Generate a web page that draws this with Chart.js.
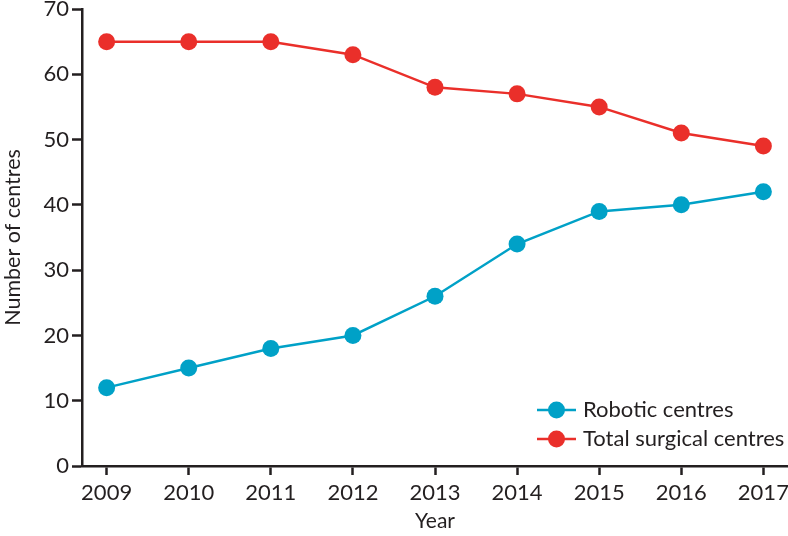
<!DOCTYPE html>
<html>
<head>
<meta charset="utf-8">
<script src="https://cdn.jsdelivr.net/npm/chart.js@4"></script>
<style>
  html, body { margin: 0; padding: 0; background: #fff; }
  #wrap { width: 788px; height: 536px; }
</style>
</head>
<body>
<div id="wrap"><canvas id="chart" width="788" height="536"></canvas></div>
<script>
const years = [2009, 2010, 2011, 2012, 2013, 2014, 2015, 2016, 2017];
const robotic = [12, 15, 18, 20, 26, 34, 39, 40, 42];
const totalSurgical = [65, 65, 65, 63, 58, 57, 55, 51, 49];
const yTicks = [0, 10, 20, 30, 40, 50, 60, 70];

const BLUE = "#00a1c7";
const RED = "#ea2f2a";
const INK = "#231f20";
const FONT = "Lato";

// legend drawn inside the plot, bottom right
const insideLegend = {
    id: "insideLegend",
    afterDraw(chart) {
        const ctx = chart.ctx;
        const items = chart.data.datasets;
        ctx.save();
        items.forEach((ds, i) => {
            const y = 410 + i * 29;
            const x0 = 537, x1 = 576;
            ctx.strokeStyle = ds.borderColor;
            ctx.lineWidth = 2.5;
            ctx.beginPath();
            ctx.moveTo(x0, y);
            ctx.lineTo(x1, y);
            ctx.stroke();
            ctx.fillStyle = ds.backgroundColor;
            ctx.beginPath();
            ctx.arc((x0 + x1) / 2, y, 8.5, 0, Math.PI * 2);
            ctx.fill();
            ctx.fillStyle = INK;
            ctx.font = "22px " + FONT;
            ctx.textBaseline = "middle";
            ctx.textAlign = "left";
            ctx.fillText(ds.label, 583, y);
        });
        ctx.restore();
    }
};

new Chart(document.getElementById("chart"), {
    type: "line",
    data: {
        datasets: [
            {
                label: "Robotic centres",
                data: years.map((y, i) => ({ x: y, y: robotic[i] })),
                borderColor: BLUE,
                backgroundColor: BLUE,
                borderWidth: 2.5,
                pointRadius: 8.5,
                pointBorderWidth: 0,
                pointHoverRadius: 8.5
            },
            {
                label: "Total surgical centres",
                data: years.map((y, i) => ({ x: y, y: totalSurgical[i] })),
                borderColor: RED,
                backgroundColor: RED,
                borderWidth: 2.5,
                pointRadius: 8.5,
                pointBorderWidth: 0,
                pointHoverRadius: 8.5
            }
        ]
    },
    options: {
        responsive: false,
        animation: false,
        layout: { autoPadding: false, padding: { top: 9, right: 0, left: 0, bottom: 0 } },
        plugins: {
            legend: { display: false },
            tooltip: { enabled: false }
        },
        scales: {
            x: {
                type: "linear",
                min: 2008.7,
                max: 2017.3,
                afterBuildTicks: s => { s.ticks = years.map(v => ({ value: v })); },
                afterFit: s => {
                    s.height = 70;
                    s.paddingLeft = 0;
                    s.paddingRight = 0;
                },
                grid: {
                    drawOnChartArea: false,
                    drawTicks: true,
                    tickLength: 9,
                    tickWidth: 2.5,
                    color: INK
                },
                border: { display: true, color: INK, width: 2.5 },
                ticks: {
                    color: INK,
                    font: { family: FONT, size: 22 },
                    padding: 5,
                    maxRotation: 0,
                    callback: v => String(v)
                },
                title: {
                    display: true,
                    text: "Year",
                    color: INK,
                    font: { family: FONT, size: 21 },
                    padding: { top: 0, bottom: 2 }
                }
            },
            y: {
                min: 0,
                max: 70,
                afterBuildTicks: s => { s.ticks = yTicks.map(v => ({ value: v })); },
                afterFit: s => {
                    s.width = 82;
                    s.paddingTop = 0;
                    s.paddingBottom = 0;
                },
                grid: {
                    drawOnChartArea: false,
                    drawTicks: true,
                    tickLength: 10,
                    tickWidth: 2.5,
                    color: INK
                },
                border: { display: true, color: INK, width: 2.5 },
                ticks: {
                    color: INK,
                    font: { family: FONT, size: 22 },
                    padding: 3
                },
                title: {
                    display: true,
                    text: "Number of centres",
                    color: INK,
                    font: { family: FONT, size: 21.5 },
                    padding: { top: 0, bottom: 4 }
                }
            }
        }
    },
    plugins: [insideLegend]
});
</script>
</body>
</html>
